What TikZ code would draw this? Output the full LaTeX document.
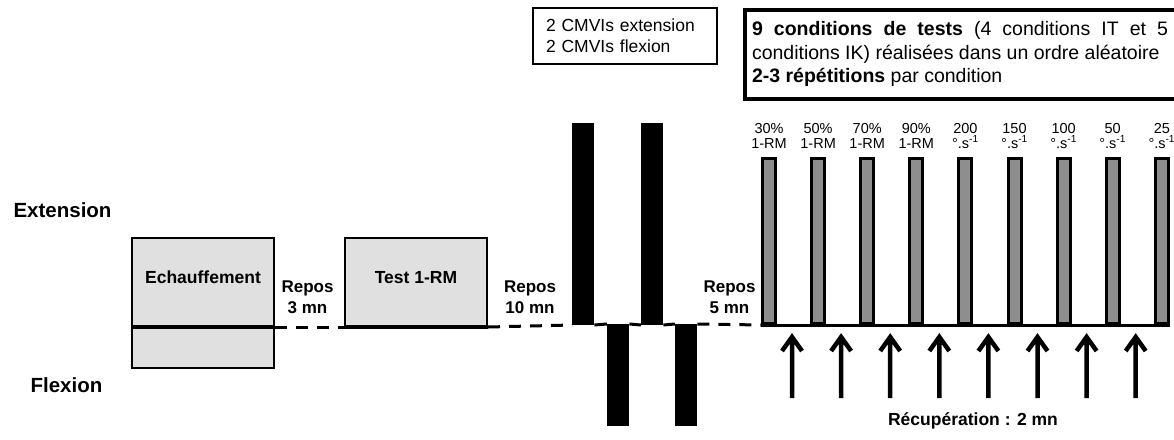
\documentclass[tikz,border=0pt]{standalone}
\usepackage{fontspec}
\setmainfont{Liberation Sans}
\usetikzlibrary{arrows.meta}
\definecolor{boxgray}{HTML}{E0E0E0}
\definecolor{bargray}{HTML}{8E8E8E}

\tikzset{
    phase/.style={draw, line width=2pt, fill=boxgray, anchor=north west, inner sep=0pt,
        minimum width=142pt, text depth=10pt, font=\bfseries\fontsize{17.5}{21}\selectfont},
    mvcbar/.style={fill=black, inner sep=0pt, minimum width=22pt},
    condbar/.style={draw, line width=3pt, fill=bargray, inner sep=0pt, anchor=south west,
        minimum width=13pt, minimum height=165pt},
    rest/.style={line width=3pt, dash pattern=on 12pt off 9pt},
    lbl/.style={align=center, font=\bfseries\fontsize{17}{21.5}\selectfont},
    cond/.style={align=center, anchor=base, font=\fontsize{14.5}{15}\selectfont},
    recup/.style={line width=4.5pt, line join=miter}
}

\begin{document}
\begin{tikzpicture}[x=1pt,y=-1pt]
    \useasboundingbox (0,0) rectangle (1174,439);

    % side labels
    \node[anchor=base west, font=\bfseries\fontsize{20.5}{24}\selectfont] (extlab) at (10,217) {Extension};
    \node[anchor=base west, font=\bfseries\fontsize{20.5}{24}\selectfont] (flxlab) at (27,392) {Flexion};

    % warm-up and 1-RM
    \node[phase, minimum height=88pt] (echext) at (131,237) {Echauffement};
    \node[phase, minimum height=42pt] (echflx) at (131,325) {};
    \node[phase, minimum height=88pt] (test) at (344,237) {Test 1-RM};
    \draw[line width=3pt] (echext.south west) -- (echext.south east);
    \draw[line width=3pt] (test.south west) -- (test.south east);

    % MVC bars
    \node[mvcbar, anchor=south west, minimum height=202pt] (ext1) at (572,325) {};
    \node[mvcbar, anchor=north west, minimum height=102pt] (flx1) at (607,324) {};
    \node[mvcbar, anchor=south west, minimum height=202pt] (ext2) at (641,325) {};
    \node[mvcbar, anchor=north west, minimum height=102pt] (flx2) at (675,324) {};

    % test conditions
    \foreach \i/\up/\dn in {0/30\%/1-RM, 1/50\%/1-RM, 2/70\%/1-RM, 3/90\%/1-RM,
        4/200/°.s\textsuperscript{-1}, 5/150/°.s\textsuperscript{-1}, 6/100/°.s\textsuperscript{-1},
        7/50/°.s\textsuperscript{-1}, 8/25/°.s\textsuperscript{-1}} {
        \node[condbar] (c\i) at ({761+49.1*\i},325) {};
        \node[cond] (l\i) at ({769+49.1*\i},148) {\up\\\dn};
    }
    \draw[line width=3pt] (c0.south west) -- (c8.south east);

    % rests
    \draw[rest] (echext.south east) -- (test.south west);
    \draw[rest] (test.south east) -- (ext1.south west);
    \draw[line width=3pt] (ext1.south east) -- (flx1.north west);
    \draw[line width=3pt] (flx1.north east) -- (ext2.south west);
    \draw[line width=3pt] (ext2.south east) -- (flx2.north west);
    \draw[rest] (flx2.north east) -- (c0.south west);

    \node[lbl] (r3) at (307.5,297) {Repos\\3 mn};
    \node[lbl] (r10) at (530,297) {Repos\\10 mn};
    \node[lbl] (r5) at (729.5,297) {Repos\\5 mn};

    % recovery arrows
    \foreach \i in {0,...,7} {
        \coordinate (a\i) at ({792+49.1*\i},398);
        \coordinate (b\i) at ({792+49.1*\i},337);
        \draw[recup] (a\i) -- (b\i) ++(-10,14) -- (b\i) -- ++(10,14);
    }
    \node[font=\bfseries\fontsize{17.5}{21}\selectfont] (recov) at (973,421) {Récupération : 2 mn};

    % text boxes
    \node[draw, line width=1.5pt, minimum width=184pt, minimum height=56pt, inner xsep=13pt,
        text width=158pt, align=left, font=\fontsize{17.5}{21}\selectfont] (mvc) at (625,36)
        {2 CMVIs extension\\2 CMVIs flexion};
    \node[draw, line width=3.5pt, anchor=north west, text width=416pt, inner xsep=7.25pt,
        inner ysep=12pt, align=justify, font=\fontsize{19.5}{23.5}\selectfont] (plan) at (743,8)
        {\textbf{9 conditions de tests} (4 conditions IT et 5\linebreak conditions IK) réalisées dans un ordre aléatoire\\\textbf{2-3 répétitions} par condition};
\end{tikzpicture}
\end{document}
